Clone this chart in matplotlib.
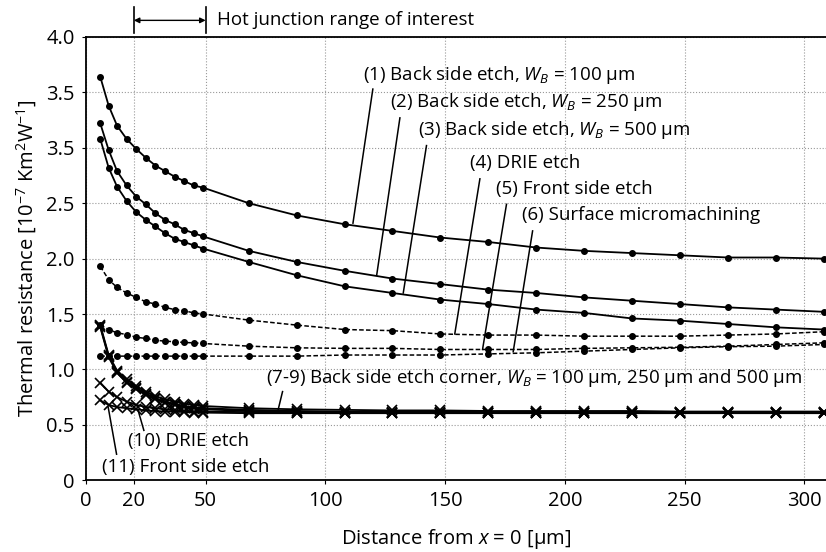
import matplotlib
matplotlib.use("Agg")
import matplotlib.pyplot as plt

plt.rcParams['font.family'] = ['Open Sans', 'DejaVu Sans']
plt.rcParams['mathtext.fontset'] = 'custom'
plt.rcParams['mathtext.rm'] = 'Open Sans'
plt.rcParams['mathtext.it'] = 'Open Sans:italic'

# distance from x = 0 [um]
x_near = [6, 9.5, 13, 17, 21, 25, 29, 33, 37, 41, 45, 49]
x_far = [68, 88, 108, 128, 148, 168, 188, 208, 228, 248, 268, 288, 308]
xs = x_near + x_far

# thermal resistance [1e-7 K m2 / W]
r1 = [3.64, 3.38, 3.20, 3.08, 2.99, 2.91, 2.84, 2.79, 2.74, 2.70, 2.66, 2.64,
      2.50, 2.39, 2.31, 2.25, 2.19, 2.15, 2.10, 2.07, 2.05, 2.03, 2.01, 2.01, 2.00]
r2 = [3.22, 2.98, 2.79, 2.66, 2.56, 2.49, 2.41, 2.35, 2.31, 2.26, 2.23, 2.20,
      2.07, 1.97, 1.89, 1.82, 1.77, 1.72, 1.69, 1.65, 1.62, 1.59, 1.56, 1.54, 1.52]
r3 = [3.08, 2.82, 2.65, 2.52, 2.42, 2.35, 2.29, 2.23, 2.18, 2.15, 2.12, 2.09,
      1.97, 1.85, 1.75, 1.69, 1.63, 1.59, 1.54, 1.51, 1.46, 1.44, 1.41, 1.38, 1.36]
r4 = [1.93, 1.81, 1.74, 1.69, 1.65, 1.61, 1.59, 1.56, 1.54, 1.53, 1.51, 1.50,
      1.445, 1.40, 1.36, 1.35, 1.32, 1.31, 1.31, 1.30, 1.30, 1.30, 1.31, 1.32, 1.34]
r5 = [1.40, 1.36, 1.33, 1.315, 1.29, 1.28, 1.264, 1.255, 1.25, 1.243, 1.24, 1.234,
      1.21, 1.195, 1.19, 1.19, 1.18, 1.18, 1.18, 1.19, 1.195, 1.20, 1.21, 1.225, 1.24]
r6 = [1.12, 1.12, 1.12, 1.12, 1.12, 1.12, 1.12, 1.12, 1.12, 1.12, 1.12, 1.12,
      1.12, 1.12, 1.13, 1.13, 1.13, 1.14, 1.15, 1.165, 1.18, 1.195, 1.205, 1.21, 1.225]
r7 = [1.40, 1.13, 0.99, 0.91, 0.85, 0.80, 0.76, 0.73, 0.71, 0.69, 0.68, 0.67,
      0.65, 0.64, 0.635, 0.63, 0.63, 0.625, 0.625, 0.625, 0.625, 0.62, 0.62, 0.62, 0.62]
r8 = [1.39, 1.12, 0.98, 0.89, 0.83, 0.78, 0.74, 0.71, 0.69, 0.67, 0.66, 0.65,
      0.635, 0.625, 0.62, 0.62, 0.62, 0.615, 0.615, 0.615, 0.615, 0.615, 0.615, 0.615, 0.615]
r9 = [1.38, 1.11, 0.97, 0.88, 0.82, 0.77, 0.73, 0.70, 0.68, 0.66, 0.65, 0.64,
      0.625, 0.615, 0.61, 0.61, 0.61, 0.61, 0.61, 0.61, 0.61, 0.61, 0.61, 0.61, 0.61]
r10 = [0.88, 0.80, 0.75, 0.71, 0.68, 0.66, 0.65, 0.64, 0.63, 0.625, 0.62, 0.62,
       0.615, 0.61, 0.61, 0.61, 0.61, 0.61, 0.61, 0.61, 0.61, 0.61, 0.61, 0.61, 0.61]
r11 = [0.72, 0.68, 0.66, 0.65, 0.64, 0.63, 0.625, 0.62, 0.62, 0.615, 0.61, 0.61,
       0.605, 0.605, 0.605, 0.605, 0.605, 0.605, 0.605, 0.605, 0.605, 0.605, 0.605, 0.605, 0.605]

yticks = [0, 0.5, 1.0, 1.5, 2.0, 2.5, 3.0, 3.5, 4.0]
ytick_labels = ['0', '0.5', '1.0', '1.5', '2.0', '2.5', '3.5', '3.5', '4.0']
xticks = [0, 20, 50, 100, 150, 200, 250, 300]

fig = plt.figure(figsize=(8.26, 5.52), dpi=100)
ax = fig.add_axes([0.104, 0.130, 0.896, 0.803])

for r in (r1, r2, r3):
    ax.plot(xs, r, '-', color='black', lw=1.3, marker='o', ms=4)
for r in (r4, r5, r6):
    ax.plot(xs, r, '--', color='black', lw=1.1, dashes=(3, 1.5), marker='o', ms=4)
for r in (r7, r8, r9, r10, r11):
    ax.plot(xs, r, '-', color='black', lw=1.3, marker='x', ms=6.5, mew=1.2)

ax.set_xlim(0, 309)
ax.set_ylim(0, 4.0)
ax.set_xticks(xticks)
ax.set_yticks(yticks)
ax.set_yticklabels(ytick_labels)
ax.tick_params(labelsize=14.5, length=3, width=0.8, pad=5)
ax.grid(True, linestyle=':', color='#999999', lw=0.8)
ax.spines['right'].set_visible(False)
for s in ('left', 'bottom', 'top'):
    ax.spines[s].set_linewidth(1.3)

ax.set_xlabel('Distance from $x$ = 0 [µm]', fontsize=14.5, labelpad=11)
ax.set_ylabel('Thermal resistance [10$^{-7}$ Km$^{2}$W$^{-1}$]', fontsize=14.5, labelpad=5)

fs = 13.5
notes = [
    ('(1) Back side etch, $W_B$ = 100 µm', (115.7, 3.66), (119.8, 3.53), (111.5, 2.32)),
    ('(2) Back side etch, $W_B$ = 250 µm', (127.0, 3.41), (131.1, 3.27), (121.4, 1.85)),
    ('(3) Back side etch, $W_B$ = 500 µm', (138.7, 3.16), (142.2, 3.02), (132.5, 1.69)),
    ('(4) DRIE etch', (160.3, 2.86), (164.5, 2.72), (154.0, 1.32)),
    ('(5) Front side etch', (171.4, 2.63), (175.6, 2.49), (165.6, 1.18)),
    ('(6) Surface micromachining', (181.9, 2.39), (186.5, 2.25), (178.4, 1.16)),
    ('(7-9) Back side etch corner, $W_B$ = 100 µm, 250 µm and 500 µm', (75.4, 0.92), (82.1, 0.80), (80.3, 0.64)),
    ('(10) DRIE etch', (17.6, 0.35), (24.2, 0.45), (21.8, 0.63)),
    ('(11) Front side etch', (6.9, 0.12), (12.8, 0.235), (9.3, 0.66)),
]
for label, tpos, p0, p1 in notes:
    ax.text(tpos[0], tpos[1], label, fontsize=fs, ha='left', va='center')
    ax.plot([p0[0], p1[0]], [p0[1], p1[1]], color='black', lw=1.1)

# hot junction range marker above the axes
ax.annotate('', xy=(20, 4.15), xytext=(50, 4.15),
            arrowprops=dict(arrowstyle='<|-|>', color='black', lw=1.0,
                            mutation_scale=8, shrinkA=0, shrinkB=0),
            annotation_clip=False)
for xv in (20, 50):
    ax.plot([xv, xv], [4.04, 4.27], color='black', lw=1.2, clip_on=False)
ax.text(54.7, 4.15, 'Hot junction range of interest', fontsize=fs, ha='left', va='center')

fig.savefig('out.png', dpi=100)
